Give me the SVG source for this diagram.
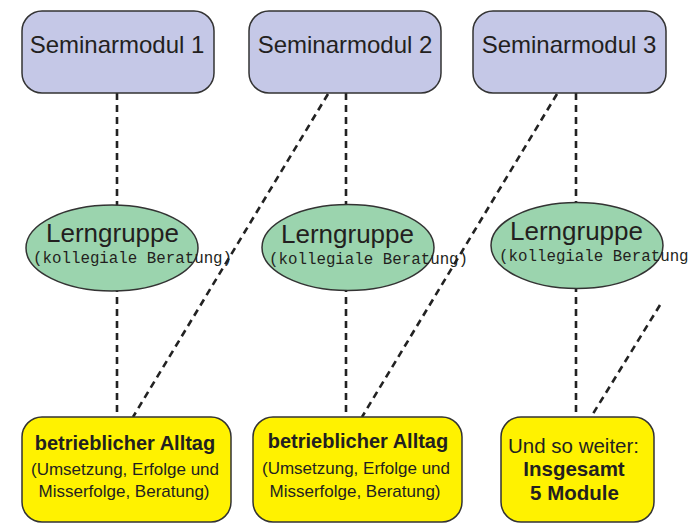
<svg xmlns="http://www.w3.org/2000/svg" width="689" height="523" viewBox="0 0 689 523">
<style>
.mod{fill:#c5c8e7;stroke:#333;stroke-width:1.5}
.grp{fill:#9bd4ae;stroke:#333;stroke-width:1.5}
.day{fill:#fff200;stroke:#333;stroke-width:1.5}
.conn{stroke:#222;stroke-width:2.6;stroke-dasharray:7 5;fill:none}
text{font-family:"Liberation Sans",Arial,sans-serif;fill:#231f20;text-anchor:middle}
.t1{font-size:24px}
.t2{font-size:26px}
.mono{font-family:"Liberation Mono","Courier New",monospace;font-size:15.8px;text-anchor:start}
.b{font-size:20px;font-weight:bold}
.s{font-size:17px}
.u{font-size:20.5px}
.ub{font-size:20.5px;font-weight:bold}
</style>
<rect width="689" height="523" fill="#fff"/>
<g id="connectors">
<line class="conn" x1="117" y1="93" x2="117" y2="417"/>
<line class="conn" x1="346" y1="93" x2="346" y2="417"/>
<line class="conn" x1="576" y1="93" x2="576" y2="417"/>
<line class="conn" x1="328" y1="94" x2="133" y2="417"/>
<line class="conn" x1="557" y1="94" x2="362" y2="417"/>
<line class="conn" x1="660" y1="305" x2="591" y2="417"/>
</g>
<g id="seminarmodul1">
<rect class="mod" x="22" y="11" width="192" height="82" rx="20"/>
<text class="t1" x="117" y="53">Seminarmodul 1</text>
</g>
<g id="seminarmodul2">
<rect class="mod" x="249" y="11" width="192" height="82" rx="20"/>
<text class="t1" x="345" y="53">Seminarmodul 2</text>
</g>
<g id="seminarmodul3">
<rect class="mod" x="473" y="11" width="193" height="82" rx="20"/>
<text class="t1" x="569" y="53">Seminarmodul 3</text>
</g>
<g id="lerngruppe1">
<ellipse class="grp" cx="112" cy="248" rx="86" ry="43"/>
<text class="t2" x="112.5" y="242">Lerngruppe</text>
<text class="mono" x="33" y="263">(kollegiale Beratung)</text>
</g>
<g id="lerngruppe2">
<ellipse class="grp" cx="348" cy="247.5" rx="86" ry="43"/>
<text class="t2" x="347.5" y="243">Lerngruppe</text>
<text class="mono" x="269" y="264">(kollegiale Beratung)</text>
</g>
<g id="lerngruppe3">
<ellipse class="grp" cx="577" cy="245.5" rx="86" ry="43"/>
<text class="t2" x="576.5" y="240">Lerngruppe</text>
<text class="mono" x="499" y="261">(kollegiale Beratung)</text>
</g>
<g id="alltag1">
<rect class="day" x="22" y="417" width="209" height="105" rx="20"/>
<text class="b" x="125" y="450">betrieblicher Alltag</text>
<text class="s" x="125" y="475">(Umsetzung, Erfolge und</text>
<text class="s" x="124" y="497">Misserfolge, Beratung)</text>
</g>
<g id="alltag2">
<rect class="day" x="253" y="417" width="209" height="105" rx="20"/>
<text class="b" x="358" y="448">betrieblicher Alltag</text>
<text class="s" x="356" y="474">(Umsetzung, Erfolge und</text>
<text class="s" x="355" y="497">Misserfolge, Beratung)</text>
</g>
<g id="weiter">
<rect class="day" x="501" y="417" width="153" height="105" rx="20"/>
<text class="u" x="573.5" y="453">Und so weiter:</text>
<text class="ub" x="574" y="476">Insgesamt</text>
<text class="ub" x="574.5" y="500">5 Module</text>
</g>
</svg>
